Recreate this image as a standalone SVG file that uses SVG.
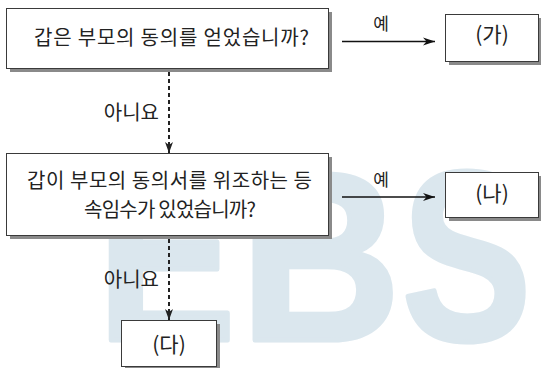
<svg xmlns="http://www.w3.org/2000/svg" width="541" height="368" viewBox="0 0 541 368">
<style>
.wm{font-family:"Liberation Sans",Arial,sans-serif;font-weight:bold;font-size:242px;fill:#dbe7ee;stroke:#dbe7ee;stroke-width:5;stroke-linejoin:round}
.shadow{fill:#8a8a8a}
.box{fill:#ffffff;stroke:#3a3a3a;stroke-width:1}
.t{font-family:"Noto Sans CJK KR","Noto Sans",sans-serif;font-size:20px;fill:#222}
.p{font-family:"Noto Sans CJK KR","Noto Sans",sans-serif;font-size:21px;fill:#222}
.lbl{font-family:"Noto Sans CJK KR","Noto Sans",sans-serif;font-size:17px;fill:#222}
.solid{stroke:#111;stroke-width:1.6;fill:none}
.dash{stroke:#222;stroke-width:2;stroke-dasharray:4 3;fill:none}
</style>
<defs>
<marker id="ah" markerWidth="13" markerHeight="9" refX="12" refY="4.5" orient="auto" markerUnits="userSpaceOnUse">
<path d="M0,0.5 L12,4.5 L0,8.5 L3.5,4.5 z" fill="#111"/>
</marker>
<marker id="ahd" markerWidth="10" markerHeight="12" refX="5" refY="11" orient="0" markerUnits="userSpaceOnUse">
<path d="M1,0 L5,11 L9,0 L5,3 z" fill="#222"/>
</marker>
</defs>
<g id="watermark">
<text class="wm" transform="translate(97,340) scale(0.86,1)">E</text>
<text class="wm" transform="translate(240,340) scale(0.92,1)">B</text>
<text class="wm" transform="translate(402,340) scale(0.8,1)">S</text>
</g>
<g id="connectors">
<line class="solid" x1="342" y1="41.5" x2="435" y2="41.5" marker-end="url(#ah)"/>
<line class="solid" x1="342" y1="197" x2="435" y2="197" marker-end="url(#ah)"/>
<line class="dash" x1="169" y1="72" x2="169" y2="153" marker-end="url(#ahd)"/>
<line class="dash" x1="169" y1="239" x2="169" y2="320" marker-end="url(#ahd)"/>
<text class="lbl" x="381" y="30" text-anchor="middle">예</text>
<text class="lbl" x="381" y="186" text-anchor="middle">예</text>
<text class="t" x="159" y="120" text-anchor="end">아니요</text>
<text class="t" x="159" y="287" text-anchor="end">아니요</text>
</g>
<g id="q1">
<rect class="shadow" x="10" y="12" width="322" height="60"/>
<rect class="box" x="6.5" y="8.5" width="322" height="60"/>
<text class="t" x="34" y="45" textLength="275" lengthAdjust="spacing">갑은 부모의 동의를 얻었습니까?</text>
</g>
<g id="ga">
<rect class="shadow" x="449" y="18" width="93" height="47"/>
<rect class="box" x="445.5" y="14.5" width="93" height="47"/>
<text class="p" x="492" y="42" text-anchor="middle">(가)</text>
</g>
<g id="q2">
<rect class="shadow" x="10" y="157" width="322" height="82"/>
<rect class="box" x="6.5" y="153.5" width="322" height="82"/>
<text class="t" x="27" y="188" textLength="285" lengthAdjust="spacing">갑이 부모의 동의서를 위조하는 등</text>
<text class="t" x="84" y="217" textLength="172" lengthAdjust="spacing">속임수가 있었습니까?</text>
</g>
<g id="na">
<rect class="shadow" x="449" y="176" width="93" height="45"/>
<rect class="box" x="445.5" y="172.5" width="93" height="45"/>
<text class="p" x="492" y="201" text-anchor="middle">(나)</text>
</g>
<g id="da">
<rect class="shadow" x="125" y="324" width="95" height="46"/>
<rect class="box" x="121.5" y="320.5" width="95" height="46"/>
<text class="p" x="169" y="352" text-anchor="middle">(다)</text>
</g>
</svg>
